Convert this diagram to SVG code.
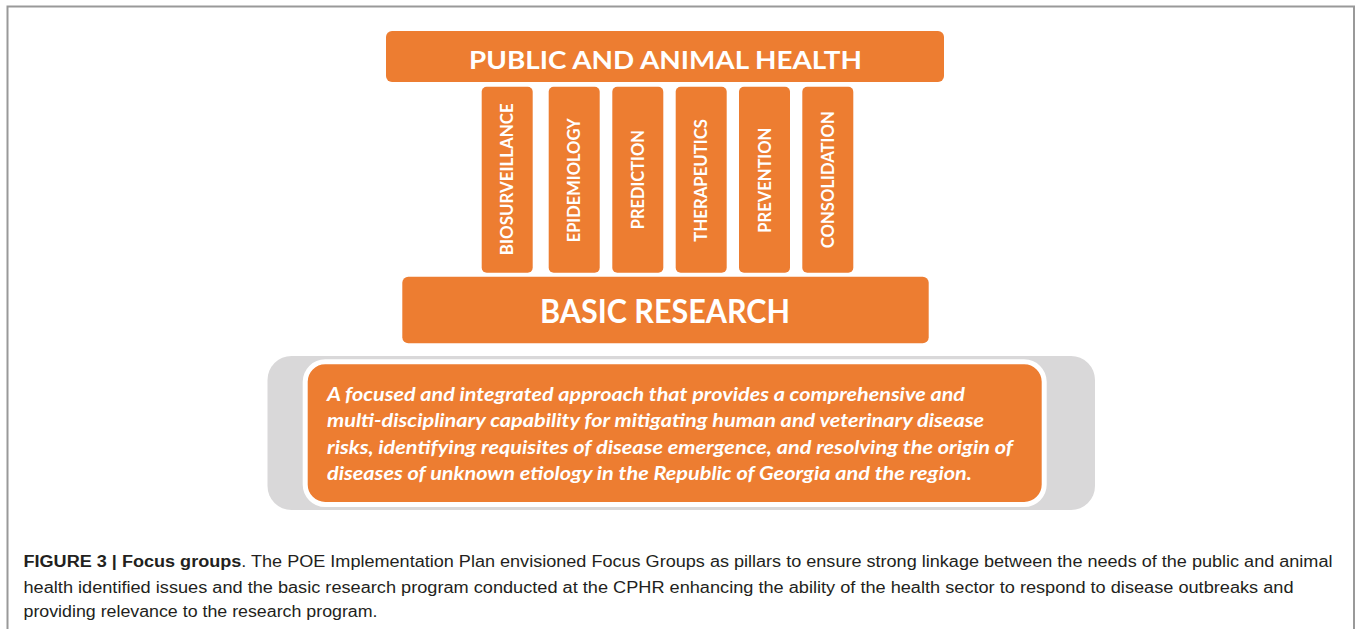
<svg xmlns="http://www.w3.org/2000/svg" width="1356" height="629" viewBox="0 0 1356 629">
<style>
.box{fill:#ED7D31}
.hd{font-family:Lato,"Open Sans","Liberation Sans",sans-serif;font-weight:bold;fill:#fff;text-anchor:middle}
.pl{font-family:Lato,"Open Sans","Liberation Sans",sans-serif;font-weight:bold;font-size:16.5px;fill:#fff;text-anchor:middle}
.body{font-family:Lato,"Open Sans","Liberation Sans",sans-serif;font-weight:bold;font-style:italic;font-size:18.5px;fill:#fff}
.cap{font-family:"Liberation Sans",Arial,sans-serif;font-size:16px;fill:#231f20}
</style>
<rect width="1356" height="629" fill="#fff"/>
<path d="M7.5,629 V6.5 H1354 V629" fill="none" stroke="#999" stroke-width="2"/>
<g id="public-animal-health">
<rect class="box" x="386" y="31" width="558" height="51" rx="6"/>
<text class="hd" x="665.5" y="69.3" font-size="25" textLength="393" lengthAdjust="spacingAndGlyphs">PUBLIC AND ANIMAL HEALTH</text>
</g>
<g id="pillar-biosurveillance">
<rect class="box" x="481.7" y="86.7" width="51" height="186" rx="5"/>
<text class="pl" transform="translate(513.3,179.2) rotate(-90)" textLength="152" lengthAdjust="spacingAndGlyphs">BIOSURVEILLANCE</text>
</g>
<g id="pillar-epidemiology">
<rect class="box" x="548.7" y="86.7" width="51" height="186" rx="5"/>
<text class="pl" transform="translate(580.2,180.3) rotate(-90)" textLength="124" lengthAdjust="spacingAndGlyphs">EPIDEMIOLOGY</text>
</g>
<g id="pillar-prediction">
<rect class="box" x="612.3" y="86.7" width="51" height="186" rx="5"/>
<text class="pl" transform="translate(643.8,179.7) rotate(-90)" textLength="99" lengthAdjust="spacingAndGlyphs">PREDICTION</text>
</g>
<g id="pillar-therapeutics">
<rect class="box" x="675.7" y="86.7" width="51" height="186" rx="5"/>
<text class="pl" transform="translate(707.2,180.3) rotate(-90)" textLength="122.7" lengthAdjust="spacingAndGlyphs">THERAPEUTICS</text>
</g>
<g id="pillar-prevention">
<rect class="box" x="739" y="86.7" width="51" height="186" rx="5"/>
<text class="pl" transform="translate(770.5,180.2) rotate(-90)" textLength="105" lengthAdjust="spacingAndGlyphs">PREVENTION</text>
</g>
<g id="pillar-consolidation">
<rect class="box" x="802.3" y="86.7" width="51" height="186" rx="5"/>
<text class="pl" transform="translate(833.8,179.7) rotate(-90)" textLength="137" lengthAdjust="spacingAndGlyphs">CONSOLIDATION</text>
</g>
<g id="basic-research">
<rect class="box" x="402.3" y="276.7" width="526.4" height="66.6" rx="6"/>
<text class="hd" x="665" y="323.3" font-size="32" textLength="250" lengthAdjust="spacingAndGlyphs">BASIC RESEARCH</text>
</g>
<g id="mission">
<rect x="267.5" y="356" width="827.5" height="154" rx="24" fill="#D9D8D9"/>
<rect class="box" x="305.2" y="361.8" width="739" height="142.7" rx="20" stroke="#fff" stroke-width="5"/>
<text class="body" x="327" y="400.5" textLength="638" lengthAdjust="spacingAndGlyphs">A focused and integrated approach that provides a comprehensive and</text>
<text class="body" x="327" y="427" textLength="657" lengthAdjust="spacingAndGlyphs">multi-disciplinary capability for mitigating human and veterinary disease</text>
<text class="body" x="327" y="453.5" textLength="686" lengthAdjust="spacingAndGlyphs">risks, identifying requisites of disease emergence, and resolving the origin of</text>
<text class="body" x="327" y="480" textLength="645" lengthAdjust="spacingAndGlyphs">diseases of unknown etiology in the Republic of Georgia and the region.</text>
</g>
<g id="caption">
<text class="cap" x="23.5" y="567" textLength="1309" lengthAdjust="spacingAndGlyphs"><tspan font-weight="bold">FIGURE 3 | Focus groups</tspan>. The POE Implementation Plan envisioned Focus Groups as pillars to ensure strong linkage between the needs of the public and animal</text>
<text class="cap" x="23.5" y="592.5" textLength="1270" lengthAdjust="spacingAndGlyphs">health identified issues and the basic research program conducted at the CPHR enhancing the ability of the health sector to respond to disease outbreaks and</text>
<text class="cap" x="23.5" y="616.7" textLength="354" lengthAdjust="spacingAndGlyphs">providing relevance to the research program.</text>
</g>
</svg>
